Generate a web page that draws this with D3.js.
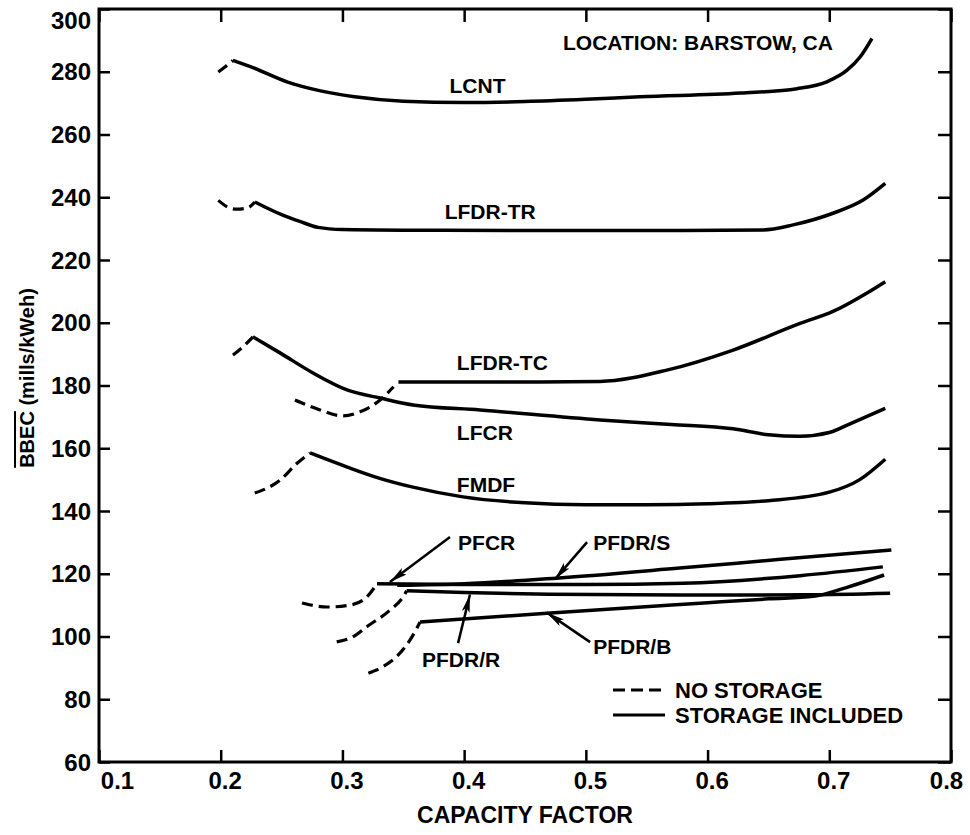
<!DOCTYPE html>
<html>
<head>
<meta charset="utf-8">
<script src="https://cdn.jsdelivr.net/npm/d3@7"></script>
<style>
body { margin: 0; background: #fff; }
svg { font-family: "Liberation Sans", Arial, sans-serif; font-weight: bold; }
</style>
</head>
<body>
<script>
// tick values
var xTicks = [0.1, 0.2, 0.3, 0.4, 0.5, 0.6, 0.7, 0.8];
var yTicks = [60, 80, 100, 120, 140, 160, 180, 200, 220, 240, 260, 280, 300];

// curves: [capacity factor, BBEC]
// dashed = no storage, solid = storage included
var lcntDash = [[0.198, 279.9], [0.205, 282.0], [0.210, 283.6]];
var lcntSolid = [[0.210, 283.6], [0.227, 281.2], [0.255, 276.7], [0.282, 273.9], [0.31, 272.0], [0.35, 270.6],
  [0.40, 270.2], [0.45, 270.5], [0.50, 271.2], [0.5445, 272.0], [0.627, 273.2], [0.6735, 274.6],
  [0.698, 276.8], [0.7146, 280.5], [0.7253, 284.7], [0.735, 290.6]];

var lfdrTrDash = [[0.198, 239.0], [0.205, 237.0], [0.213, 236.2], [0.222, 236.6], [0.228, 238.5]];
var lfdrTrSolid = [[0.228, 238.5], [0.251, 234.3], [0.265, 232.3], [0.28, 230.4], [0.30, 229.7], [0.35, 229.5],
  [0.45, 229.4], [0.55, 229.4], [0.6456, 229.6], [0.6703, 231.2], [0.703, 234.9], [0.7278, 239.1], [0.746, 244.4]];

var lfdrTcDash = [[0.261, 175.4], [0.2816, 172.2], [0.3005, 170.3], [0.3145, 171.6], [0.331, 175.4], [0.342, 179.6]];
var lfdrTcSolid = [[0.346, 181.1], [0.40, 181.1], [0.45, 181.1], [0.5117, 181.3], [0.5665, 184.9], [0.621, 191.3],
  [0.676, 199.8], [0.703, 203.6], [0.731, 209.5], [0.746, 213.1]];

var lfcrDash = [[0.210, 189.7], [0.218, 192.2], [0.2265, 195.5]];
var lfcrSolid = [[0.2265, 195.5], [0.2487, 190.4], [0.2758, 184.0], [0.3038, 178.6], [0.331, 176.0], [0.358, 173.8],
  [0.413, 172.2], [0.5117, 169.0], [0.57, 167.6], [0.621, 166.2], [0.65, 164.3], [0.676, 163.8],
  [0.70, 165.0], [0.717, 167.8], [0.746, 172.7]];

var fmdfDash = [[0.228, 145.7], [0.249, 149.9], [0.263, 155.3], [0.2734, 158.5]];
var fmdfSolid = [[0.2734, 158.5], [0.304, 154.0], [0.33, 150.5], [0.358, 147.6], [0.399, 144.5], [0.45, 142.6],
  [0.50, 142.0], [0.55, 142.0], [0.60, 142.3], [0.65, 143.3], [0.70, 146.0], [0.725, 150.0], [0.746, 156.5]];

var pfcrDash = [[0.2668, 110.7], [0.2873, 109.4], [0.306, 110.0], [0.32, 112.6], [0.3284, 116.8]];
var pfcrSolid = [[0.3284, 116.8], [0.40, 116.6], [0.50, 116.6], [0.58, 117.0], [0.676, 119.4], [0.744, 122.2]];

var pfdrSSolid = [[0.345, 116.3], [0.40, 116.8], [0.476, 118.6], [0.577, 121.8], [0.66, 124.6], [0.751, 127.6]];

var pfdrRDash = [[0.2953, 98.3], [0.31, 100.2], [0.32, 103.1], [0.339, 108.4], [0.35, 112.7], [0.3528, 114.6]];
var pfdrRSolid = [[0.3528, 114.6], [0.40, 114.0], [0.47, 113.5], [0.58, 113.2], [0.68, 113.3], [0.75, 113.8]];

var pfdrBDash = [[0.3213, 88.3], [0.333, 90.3], [0.3446, 93.6], [0.3556, 98.9], [0.3638, 104.6]];
var pfdrBSolid = [[0.3638, 104.6], [0.468, 107.4], [0.594, 110.6], [0.65, 112.0], [0.687, 112.8], [0.714, 115.6], [0.745, 119.6]];

var curves = [
  {name: "LCNT", dash: lcntDash, solid: lcntSolid},
  {name: "LFDR-TR", dash: lfdrTrDash, solid: lfdrTrSolid},
  {name: "LFDR-TC", dash: lfdrTcDash, solid: lfdrTcSolid},
  {name: "LFCR", dash: lfcrDash, solid: lfcrSolid},
  {name: "FMDF", dash: fmdfDash, solid: fmdfSolid},
  {name: "PFCR", dash: pfcrDash, solid: pfcrSolid},
  {name: "PFDR/S", dash: [], solid: pfdrSSolid},
  {name: "PFDR/R", dash: pfdrRDash, solid: pfdrRSolid},
  {name: "PFDR/B", dash: pfdrBDash, solid: pfdrBSolid}
];

// curve labels placed at data coords
var labelNames = ["LCNT", "LFDR-TR", "LFDR-TC", "LFCR", "FMDF"];
var labelPos = [[0.388, 275.5], [0.384, 235.3], [0.394, 187.2], [0.394, 164.9], [0.394, 148.3]];

// arrow labels: text pos, arrow tail, arrow tip
var arrowNames = ["PFCR", "PFDR/S", "PFDR/R", "PFDR/B"];
var arrowText = [[0.395, 129.8], [0.506, 129.8], [0.3975, 92.5], [0.506, 96.9]];
var arrowTail = [[0.3884, 131.7], [0.501, 130.1], [0.395, 97.9], [0.5035, 98.2]];
var arrowTip = [[0.339, 117.4], [0.4747, 118.3], [0.4048, 113.4], [0.468, 107.6]];

var width = 970, height = 835;
var svg = d3.select("body").append("svg")
    .attr("width", width)
    .attr("height", height);

var x = d3.scaleLinear().domain([0.1, 0.8]).range([99, 951]);
var y = d3.scaleLinear().domain([60, 300]).range([762, 9]);

var line = d3.line()
    .x(function(d) { return x(d[0]); })
    .y(function(d) { return y(d[1]); })
    .curve(d3.curveMonotoneX);

// axes, ticks pointing inward on all four sides
var bottom = svg.append("g")
    .attr("transform", "translate(0," + y(60) + ")")
    .call(d3.axisBottom(x).tickValues(xTicks).tickSizeInner(-12).tickSizeOuter(0).tickPadding(10)
      .tickFormat(d3.format(".1f")));
bottom.selectAll("text")
    .attr("dx", function(d) { return d == 0.1 ? 18 : (d == 0.8 ? -5 : 4); });

var left = svg.append("g")
    .attr("transform", "translate(" + x(0.1) + ",0)")
    .call(d3.axisLeft(y).tickValues(yTicks).tickSizeInner(-11).tickSizeOuter(0).tickPadding(8));
left.selectAll("text")
    .attr("dy", function(d) { return d == 300 ? "0.8em" : "0.34em"; });

svg.append("g")
    .attr("transform", "translate(0," + y(300) + ")")
    .call(d3.axisTop(x).tickValues(xTicks).tickSizeInner(-13).tickSizeOuter(0).tickFormat(""));

svg.append("g")
    .attr("transform", "translate(" + x(0.8) + ",0)")
    .call(d3.axisRight(y).tickValues(yTicks).tickSizeInner(-13).tickSizeOuter(0).tickFormat(""));

svg.selectAll(".domain").remove();
svg.selectAll(".tick line").attr("stroke", "#000").attr("stroke-width", 2.5);
svg.selectAll(".tick text")
    .attr("fill", "#000")
    .style("font-size", "24px")
    .style("font-family", "Liberation Sans, Arial, sans-serif")
    .style("font-weight", "bold");

// frame
svg.append("rect")
    .attr("x", x(0.1))
    .attr("y", y(300))
    .attr("width", x(0.8) - x(0.1))
    .attr("height", y(60) - y(300))
    .attr("fill", "none")
    .attr("stroke", "#000")
    .attr("stroke-width", 3);

// curves
var cg = svg.append("g");
curves.forEach(function(c) {
  if (c.dash.length) {
    cg.append("path")
      .attr("d", line(c.dash))
      .attr("fill", "none")
      .attr("stroke", "#000")
      .attr("stroke-width", 3.2)
      .attr("stroke-dasharray", "11,6");
  }
  cg.append("path")
    .attr("d", line(c.solid))
    .attr("fill", "none")
    .attr("stroke", "#000")
    .attr("stroke-width", 3.5);
});

// curve labels
svg.selectAll(".clabel")
    .data(labelNames)
    .enter().append("text")
    .attr("class", "clabel")
    .attr("x", function(d, i) { return x(labelPos[i][0]); })
    .attr("y", function(d, i) { return y(labelPos[i][1]); })
    .attr("dy", "0.35em")
    .style("font-size", "21px")
    .text(function(d) { return d; });

// arrowheads
svg.append("defs").append("marker")
    .attr("id", "head")
    .attr("markerUnits", "userSpaceOnUse")
    .attr("viewBox", "0 0 18 8")
    .attr("refX", 18)
    .attr("refY", 4)
    .attr("markerWidth", 18)
    .attr("markerHeight", 8)
    .attr("orient", "auto")
    .append("path")
    .attr("d", "M0,0 L18,4 L0,8 L4,4 Z")
    .attr("fill", "#000");

arrowNames.forEach(function(n, i) {
  svg.append("line")
    .attr("x1", x(arrowTail[i][0]))
    .attr("y1", y(arrowTail[i][1]))
    .attr("x2", x(arrowTip[i][0]))
    .attr("y2", y(arrowTip[i][1]))
    .attr("stroke", "#000")
    .attr("stroke-width", 2.5)
    .attr("marker-end", "url(#head)");
  svg.append("text")
    .attr("x", x(arrowText[i][0]))
    .attr("y", y(arrowText[i][1]))
    .attr("dy", "0.35em")
    .attr("text-anchor", n == "PFDR/R" ? "middle" : "start")
    .style("font-size", "21px")
    .text(n);
});

// location note
svg.append("text")
    .attr("x", x(0.703))
    .attr("y", y(289.2))
    .attr("dy", "0.35em")
    .attr("text-anchor", "end")
    .style("font-size", "21px")
    .text("LOCATION:  BARSTOW, CA");

// legend
var legend = svg.append("g").attr("transform", "translate(613,690)");
legend.append("line")
    .attr("x1", 0).attr("x2", 52).attr("y1", 0).attr("y2", 0)
    .attr("stroke", "#000").attr("stroke-width", 3)
    .attr("stroke-dasharray", "12,6");
legend.append("line")
    .attr("x1", 0).attr("x2", 52).attr("y1", 25).attr("y2", 25)
    .attr("stroke", "#000").attr("stroke-width", 3);
legend.append("text")
    .attr("x", 62).attr("y", 0).attr("dy", "0.35em")
    .style("font-size", "22px")
    .text("NO STORAGE");
legend.append("text")
    .attr("x", 62).attr("y", 25).attr("dy", "0.35em")
    .style("font-size", "22px")
    .text("STORAGE INCLUDED");

// axis titles
svg.append("text")
    .attr("x", (x(0.1) + x(0.8)) / 2)
    .attr("y", 815)
    .attr("dy", "0.35em")
    .attr("text-anchor", "middle")
    .style("font-size", "23px")
    .text("CAPACITY FACTOR");

var ylab = svg.append("text")
    .attr("transform", "translate(27,378) rotate(-90)")
    .attr("dy", "0.35em")
    .attr("text-anchor", "middle")
    .style("font-size", "20px");
ylab.append("tspan")
    .style("text-decoration", "overline")
    .text("BBEC");
ylab.append("tspan")
    .text(" (mills/kWeh)");
</script>
</body>
</html>
